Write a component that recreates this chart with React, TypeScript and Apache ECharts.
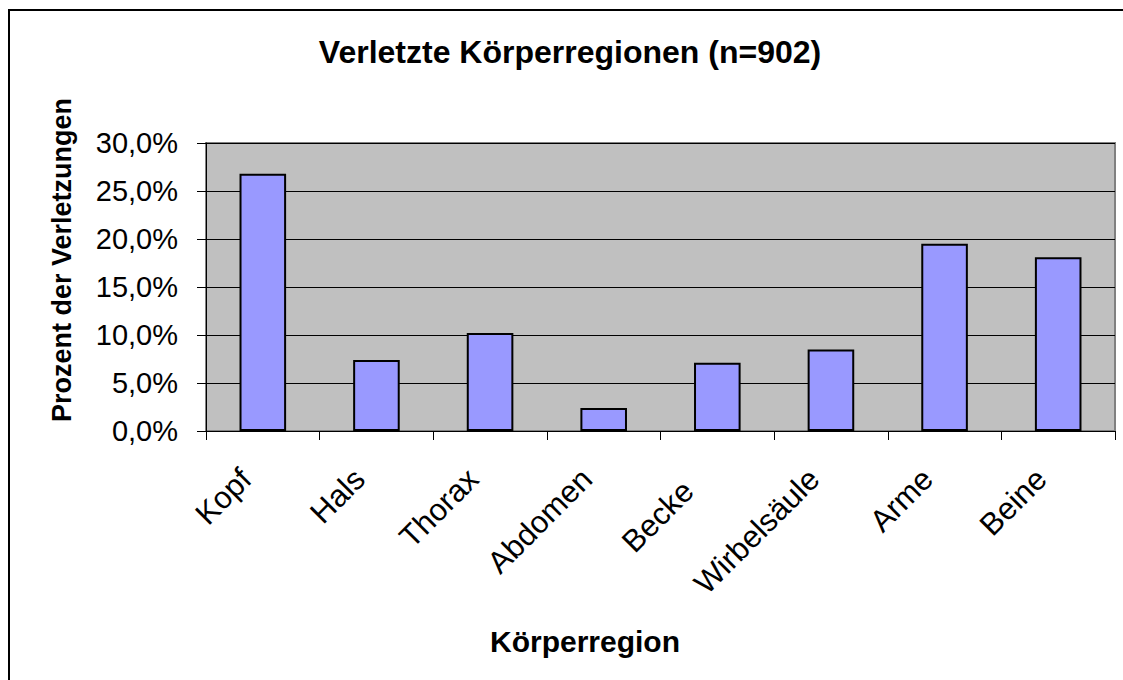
import React, { useEffect, useRef } from "react";
import * as echarts from "echarts";

const categories = ["Kopf", "Hals", "Thorax", "Abdomen", "Becken", "Wirbelsäule", "Arme", "Beine"];
const values = [26.8, 7.4, 10.2, 2.4, 7.1, 8.5, 19.5, 18.1];
const yTicks = { min: 0, max: 30, interval: 5 };
const titleText = "Verletzte Körperregionen (n=902)";
const xName = "Körperregion";
const yName = "Prozent der Verletzungen";
// label partly hidden behind its neighbour in the original
const clippedCategory = "Becken";

const FONT = "'Liberation Sans', Arial, sans-serif";

export default function App() {
  const ref = useRef<HTMLDivElement>(null);
  useEffect(() => {
    if (!ref.current) return;
    const chart = echarts.init(ref.current, undefined, { renderer: "svg" });
    const xData = categories.map((c) =>
      c === clippedCategory
        ? {
            value: c,
            textStyle: { width: 92, overflow: "truncate", ellipsis: "", padding: [0, 41, 0, 0] },
          }
        : { value: c }
    );
    chart.setOption({
      animation: false,
      backgroundColor: "#ffffff",
      textStyle: { fontFamily: FONT },
      grid: {
        left: 206,
        top: 143,
        right: 8,
        bottom: 249,
        show: true,
        backgroundColor: "#C0C0C0",
        borderColor: "#808080",
        borderWidth: 2,
      },
      xAxis: {
        type: "category",
        data: xData,
        axisLine: { show: true, lineStyle: { color: "#000", width: 1 } },
        axisTick: { show: true, length: 9, lineStyle: { color: "#000" } },
        axisLabel: {
          interval: 0,
          rotate: 45,
          margin: 26,
          fontSize: 31,
          color: "#000",
          fontFamily: FONT,
          padding: [0, 24, 0, 0],
        },
        splitLine: { show: false },
      },
      yAxis: {
        type: "value",
        min: yTicks.min,
        max: yTicks.max,
        interval: yTicks.interval,
        axisLine: { show: true, lineStyle: { color: "#000", width: 1 } },
        axisTick: { show: true, length: 9, lineStyle: { color: "#000" } },
        axisLabel: {
          margin: 28,
          fontSize: 29,
          color: "#000",
          fontFamily: FONT,
          formatter: (v: number) => v.toFixed(1).replace(".", ",") + "%",
        },
        splitLine: { show: true, lineStyle: { color: "#000", width: 1 } },
      },
      series: [
        {
          type: "bar",
          data: values,
          barCategoryGap: "59%",
          itemStyle: { color: "#9999FF", borderColor: "#000", borderWidth: 2 },
        },
      ],
      graphic: [
        {
          type: "rect",
          shape: { x: 9, y: 10, width: 1300, height: 900 },
          style: { fill: "none", stroke: "#000", lineWidth: 2 },
          silent: true,
        },
        {
          type: "text",
          x: 570,
          y: 52,
          style: {
            text: titleText,
            fontSize: 32,
            fontWeight: "bold",
            fontFamily: FONT,
            fill: "#000",
            align: "center",
            verticalAlign: "middle",
          },
        },
        {
          type: "text",
          x: 62,
          y: 260,
          rotation: Math.PI / 2,
          style: {
            text: yName,
            fontSize: 27,
            fontWeight: "bold",
            fontFamily: FONT,
            fill: "#000",
            align: "center",
            verticalAlign: "middle",
          },
        },
        {
          type: "text",
          x: 585,
          y: 641,
          style: {
            text: xName,
            fontSize: 30,
            fontWeight: "bold",
            fontFamily: FONT,
            fill: "#000",
            align: "center",
            verticalAlign: "middle",
          },
        },
      ],
    });
    return () => chart.dispose();
  }, []);
  return (
    <div
      ref={ref}
      style={{ position: "fixed", left: 0, top: 0, width: 1123, height: 680, background: "#fff" }}
    />
  );
}
